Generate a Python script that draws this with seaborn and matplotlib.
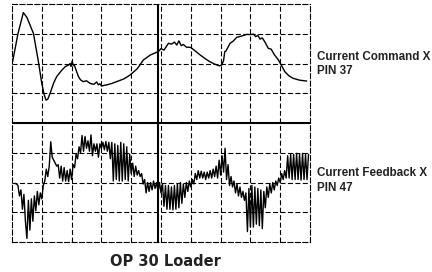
import numpy as np
import pandas as pd
import matplotlib
matplotlib.use("Agg")
import matplotlib.pyplot as plt
import seaborn as sns

# Trace 1: Current Command X (PIN 37), divisions
command_x = [0.02, 0.20, 0.38, 0.50, 0.72, 0.88, 1.00, 1.08, 1.14, 1.20, 1.28, 1.40,
             1.50, 1.65, 1.78, 1.90, 1.95, 1.98, 2.02, 2.05, 2.10, 2.23, 2.30, 2.39,
             2.50, 2.62, 2.75, 2.84, 2.90, 2.95, 3.01, 3.10, 3.18, 3.35, 3.51, 3.75,
             3.96, 4.20, 4.41, 4.65, 4.91, 5.00, 5.10, 5.25, 5.35, 5.45, 5.53, 5.60,
             5.68, 5.75, 5.85, 6.00, 6.15, 6.31, 6.50, 6.64, 6.80, 6.96, 7.04, 7.10,
             7.14, 7.18, 7.25, 7.32, 7.42, 7.54, 7.70, 7.88, 8.00, 8.10, 8.18, 8.25,
             8.32, 8.40, 8.50, 8.60, 8.70, 8.80, 8.94, 9.05, 9.16, 9.30, 9.44, 9.65,
             9.89]
command_y = [2.06, 3.00, 3.71, 3.55, 3.01, 2.10, 1.33, 0.95, 0.77, 0.80, 1.00, 1.35,
             1.56, 1.75, 1.89, 1.95, 2.00, 1.90, 2.08, 1.95, 1.92, 1.56, 1.45, 1.39,
             1.42, 1.33, 1.30, 1.38, 1.28, 1.32, 1.24, 1.27, 1.28, 1.33, 1.39, 1.48,
             1.61, 1.82, 2.12, 2.29, 2.40, 2.50, 2.45, 2.68, 2.65, 2.72, 2.62, 2.76,
             2.60, 2.64, 2.55, 2.54, 2.42, 2.29, 2.15, 2.06, 1.98, 1.92, 1.95, 2.10,
             2.40, 2.42, 2.55, 2.68, 2.75, 2.88, 2.92, 2.98, 2.97, 2.99, 2.90, 2.95,
             2.82, 2.86, 2.70, 2.51, 2.48, 2.30, 2.12, 1.92, 1.72, 1.58, 1.50, 1.44,
             1.41]

# Trace 2: Current Feedback X (PIN 47), sampled every 0.05 div from 0.10
feedback_y = [
    -2.03, -2.05, -2.10, -2.45, -2.25, -2.90, -2.40, -3.30, -3.88, -2.60,
    -3.60, -2.55, -3.30, -2.45, -2.95, -2.30, -2.75, -2.35, -2.55, -2.10,
    -1.95, -1.55, -1.80, -1.45, -0.63, -1.15, -1.25, -1.35, -1.45, -1.40,
    -1.85, -1.45, -1.95, -1.50, -1.95, -1.60, -1.97, -1.55, -1.90, -1.40,
    -1.50, -1.05, -1.20, -0.80, -1.00, -0.42, -0.95, -0.45, -0.85, -0.60,
    -0.95, -0.40, -1.10, -0.70, -0.95, -0.70, -1.15, -0.70, -0.85, -0.65,
    -0.90, -0.62, -0.95, -0.65, -1.20, -0.65, -1.95, -0.70, -1.90, -0.75,
    -1.95, -0.65, -1.95, -0.70, -1.90, -0.80, -1.95, -1.05, -1.70, -1.35,
    -1.80, -1.45, -1.75, -1.60, -1.80, -1.70, -2.05, -1.90, -2.35, -2.00,
    -2.30, -2.00, -2.25, -1.95, -2.20, -2.00, -2.30, -2.00, -2.35, -2.05,
    -2.80, -2.10, -2.90, -2.10, -2.90, -2.15, -2.92, -2.10, -2.90, -2.05,
    -2.85, -2.00, -2.70, -2.05, -2.50, -2.00, -2.30, -1.95, -2.15, -1.90,
    -2.05, -1.70, -1.90, -1.60, -1.85, -1.62, -1.85, -1.65, -1.90, -1.65,
    -1.85, -1.60, -1.85, -1.55, -1.80, -1.45, -1.85, -1.25, -1.75, -1.10,
    -1.65, -0.85, -1.90, -1.40, -2.10, -1.80, -2.15, -1.95, -2.35, -2.05,
    -2.45, -2.15, -2.50, -2.30, -2.60, -2.35, -3.65, -2.20, -3.50, -2.10,
    -3.50, -2.15, -3.40, -2.20, -3.45, -2.25, -3.55, -2.30, -2.85, -2.15,
    -2.50, -2.05, -2.35, -2.00, -2.25, -1.95, -2.10, -1.85, -2.00, -1.70,
    -1.90, -1.60, -1.85, -1.10, -1.85, -1.05, -1.90, -1.05, -1.90, -1.02,
    -1.90, -1.05, -1.92, -1.02, -1.90, -1.05, -1.90, -1.05]
feedback_x = np.linspace(0.10, 9.95, len(feedback_y))

labels = [("Current Command X\nPIN 37", 1.98), ("Current Feedback X\nPIN 47", -1.93)]
title = "OP 30 Loader"

sns.set_style("white")
plt.rcParams["font.family"] = ["Liberation Sans", "DejaVu Sans"]

fig = plt.figure(figsize=(4.32, 2.72), dpi=100)
ax = fig.add_axes([12 / 432, 1 - 242 / 272, 298 / 432, 238 / 272])

cmd = pd.DataFrame({"t": command_x, "v": command_y})
fb = pd.DataFrame({"t": feedback_x, "v": feedback_y})
sns.lineplot(data=cmd, x="t", y="v", ax=ax, color="black", lw=1.0,
             sort=False, estimator=None)
sns.lineplot(data=fb, x="t", y="v", ax=ax, color="black", lw=1.0,
             sort=False, estimator=None)

dash = dict(color="black", lw=0.8, dashes=(4.5, 2.2))
for i in range(1, 10):
    ax.axvline(i, **dash)
for j in [-3, -2, -1, 1, 2, 3]:
    ax.axhline(j, **dash)
ax.axhline(0, color="black", lw=1.5)
ax.axvline(4.9, color="black", lw=1.5)

for s in ax.spines.values():
    s.set_visible(True)
    s.set_color("black")
    s.set_linewidth(0.8)
    s.set_linestyle((0, (4.5, 2.2)))

ax.set_xlim(0, 10)
ax.set_ylim(-4, 4)
ax.set_xticks([])
ax.set_yticks([])
ax.set_xlabel("")
ax.set_ylabel("")

for txt, yv in labels:
    ax.text(10.22, yv, txt, ha="left", va="center", fontsize=8.4,
            fontweight="bold", color="#222222", linespacing=1.25, clip_on=False)

fig.text(165 / 432, 1 - 262 / 272, title, ha="center", va="center",
         fontsize=10.5, fontweight="bold", color="#222222",
         family=["DejaVu Sans"])

fig.savefig("out.png", dpi=100)
